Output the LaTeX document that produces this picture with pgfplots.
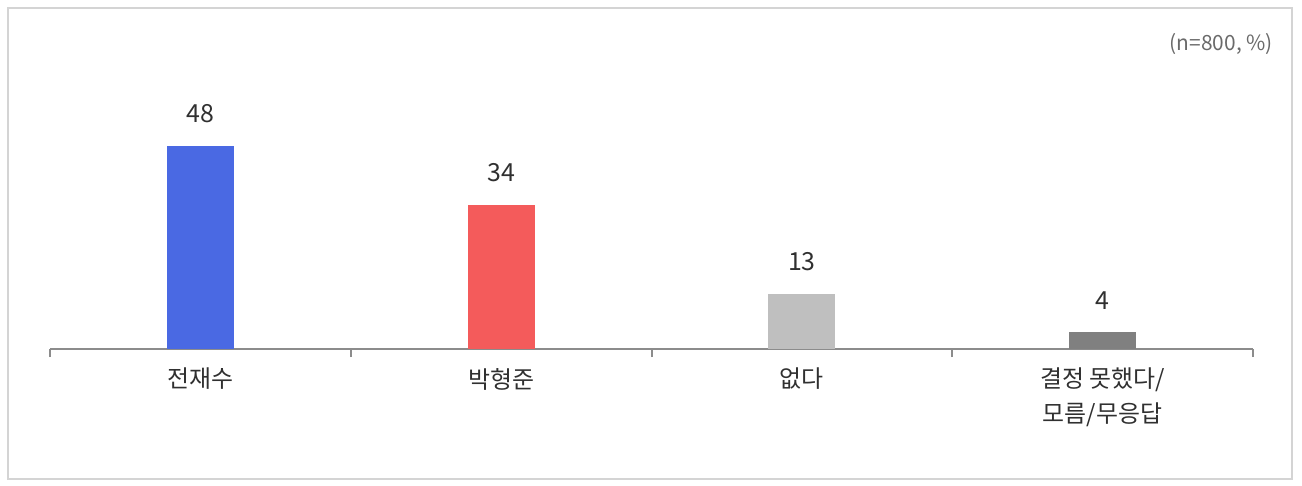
\documentclass[border=0pt]{standalone}
\usepackage{pgfplots}
\pgfplotsset{compat=1.18}
\usepackage{fontspec}
\setmainfont{Noto Sans CJK KR}
\definecolor{cblue}{HTML}{4A69E3}
\definecolor{cred}{HTML}{F45B5B}
\definecolor{clgray}{HTML}{BFBFBF}
\definecolor{cdgray}{HTML}{808080}
\definecolor{framegray}{HTML}{D4D4D4}
\definecolor{axgray}{HTML}{8C8C8C}
\definecolor{txt}{HTML}{303030}
\definecolor{note}{HTML}{6A6A6A}
\begin{document}
\begin{tikzpicture}
\useasboundingbox (0,0) rectangle (651bp,243bp);
\draw[framegray, line width=0.8bp] (4bp,3.5bp) rectangle (646bp,239bp);
\node[anchor=east, font=\fontsize{10.5}{12}\selectfont, text=note] at (640bp,221bp) {(n=800, \%)};
\begin{axis}[
  at={(25bp,68.5bp)}, anchor=south west,
  scale only axis, width=601.5bp, height=116.3bp,
  xmin=-0.5, xmax=3.5, ymin=0, ymax=55,
  axis y line=none, axis x line*=bottom,
  x axis line style={axgray, line width=1bp, -},
  xtick={0,1,2,3},
  xticklabels={전재수, 박형준, 없다, {결정 못했다/\\[2.5bp]모름/무응답}},
  major tick length=0pt,
  minor xtick={-0.5,0.5,1.5,2.5,3.5},
  minor tick length=4bp,
  tick align=outside,
  minor tick style={axgray, line width=1bp},
  xticklabel style={font=\fontsize{12}{15}\selectfont, text=txt, align=center, yshift=-6bp},
  ybar, bar width=33.5bp, bar shift=0pt,
  nodes near coords,
  /pgf/number format/assume math mode=true,
  every node near coord/.append style={font=\fontsize{12.5}{14}\selectfont, text=txt, yshift=8bp},
  clip=false,
]
\addplot[fill=cblue, draw=none] coordinates {(0,48)};
\addplot[fill=cred, draw=none] coordinates {(1,34)};
\addplot[fill=clgray, draw=none] coordinates {(2,13)};
\addplot[fill=cdgray, draw=none] coordinates {(3,4)};
\end{axis}
\end{tikzpicture}
\end{document}
